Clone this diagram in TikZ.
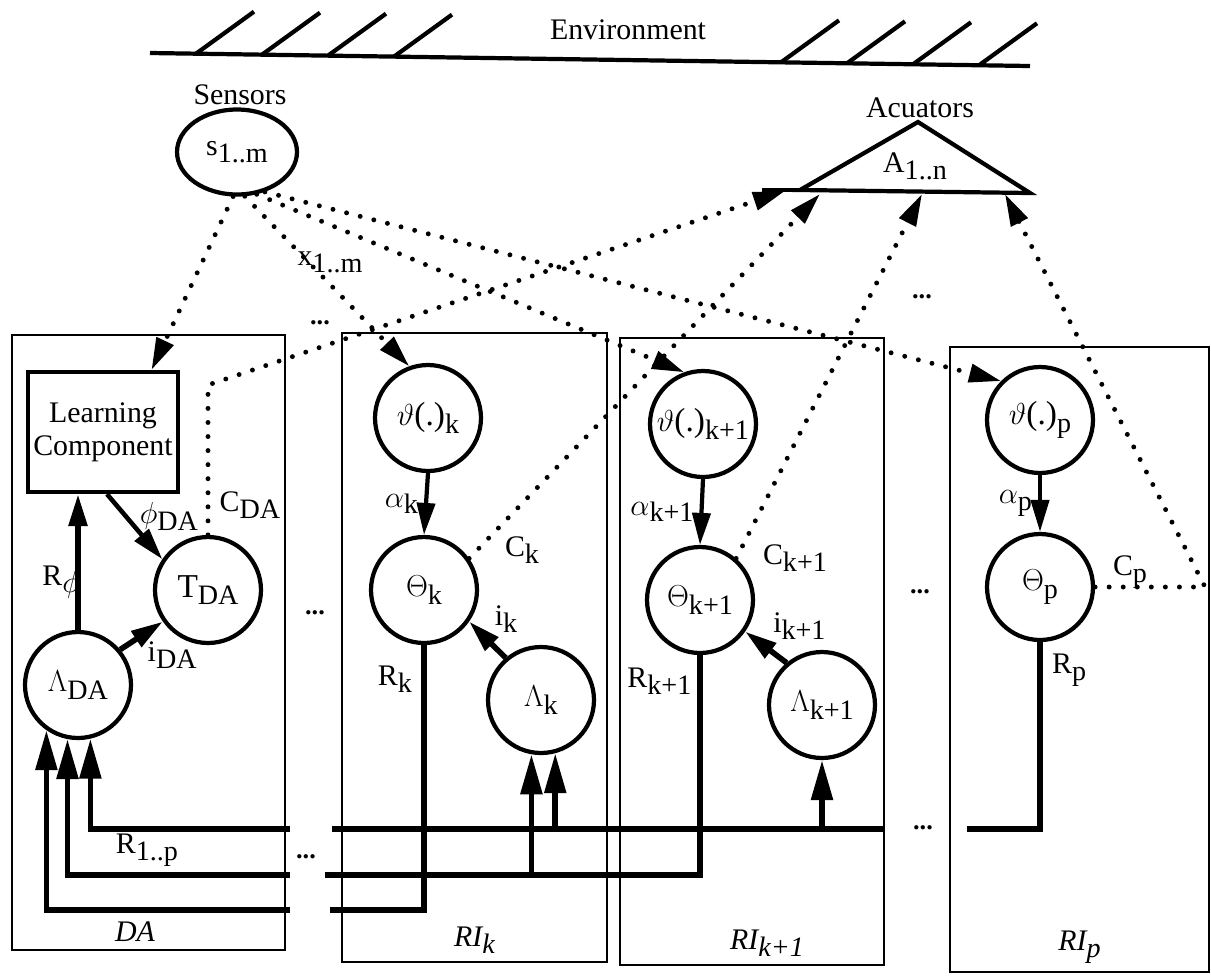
\documentclass[tikz,border=0pt]{standalone}
\usepackage{fontspec}
\setmainfont{Liberation Serif}
\usetikzlibrary{positioning, arrows.meta, shapes.geometric}
\newcommand{\idx}[1]{\raisebox{-0.5ex}{\fontsize{16}{16}\selectfont #1}}
\tikzset{
  unit/.style={circle, draw, line width=2.4pt, minimum size=2.12cm, inner sep=0pt, font=\fontsize{19}{20}\selectfont},
  panel/.style={draw, line width=1.1pt, inner sep=0pt},
  feed/.style={line width=3.2pt},
  tip/.style={-{Triangle[length=0.64cm, width=0.36cm]}},
  bigtip/.style={-{Triangle[length=0.8cm, width=0.42cm]}},
  sig/.style={line width=2.8pt, dash pattern=on 0pt off 8pt, line cap=round},
  dots/.style={font=\fontsize{15}{15}\selectfont\bfseries}
}

\begin{document}
\begin{tikzpicture}[x=0.02cm, y=-0.02cm, font=\fontsize{17}{19}\selectfont]
  \useasboundingbox (0,0) rectangle (1211,975);

  % environment
  \draw[line width=2.4pt] (150,53) -- (1030,66);
  \foreach \x in {196,262,328,394,781,847,913,979}
    \draw[line width=2.4pt] (\x,{53+(\x-150)*0.0148}) -- ++(58,-42);
  \node (env) at (628,30) {Environment};

  % sensors and actuators
  \node (senslabel) at (240,95) {Sensors};
  \node[ellipse, draw, line width=2.4pt, minimum width=2.4cm, minimum height=1.7cm, inner sep=0pt] (sens) at (237,152) {s\idx{1..m}};
  \node (actlabel) at (920,108) {Acuators};
  \draw[line width=2.4pt] (918,122) -- (1030,193) -- (800,190) -- cycle;
  \draw[line width=2.4pt] (800,190) -- (762,190);
  \node (act) at (915,166) {A\idx{1..n}};
  \coordinate (act1) at (785,191);
  \coordinate (act2) at (820,194);
  \coordinate (act3) at (922,194);
  \coordinate (act4) at (1005,194);

  % panels
  \node[panel, minimum width=5.46cm, minimum height=12.3cm] (da) at (148.5,642.5) {};
  \node[panel, minimum width=5.3cm, minimum height=12.58cm] (rik) at (474.5,647.5) {};
  \node[panel, minimum width=5.28cm, minimum height=12.54cm] (rik1) at (752,651.5) {};
  \node[panel, minimum width=5.18cm, minimum height=12.5cm] (rip) at (1079.5,659.5) {};
  \node[above=2pt of da.south, xshift=-0.27cm] (dalabel) {\textit{DA}};
  \node[above=2pt of rik.south] (riklabel) {\textit{RI\idx{k}}};
  \node[above=2pt of rik1.south, xshift=0.3cm] (rik1label) {\textit{RI\idx{k+1}}};
  \node[above=2pt of rip.south] (riplabel) {\textit{RI\idx{p}}};

  % DA
  \node[draw, line width=2.4pt, minimum width=3cm, minimum height=2.4cm, align=center, inner sep=2pt] (lc) at (103,432) {Learning\\Component};
  \node[unit] (tda) at (208,590) {T\idx{DA}};
  \node[unit] (lda) at (78,685) {$\Lambda$\idx{DA}};
  \draw[feed, tip] (lda.north) -- (lda.north |- lc.south) node[pos=0.35, left=-6pt] (rphi) {R\idx{$\phi$}};
  \draw[line width=2.6pt, tip] ([xshift=0.08cm]lc.south) -- (tda.146) node[pos=0.35, right=3pt] (phida) {$\phi$\idx{DA}};
  \draw[feed, tip] (lda.40) -- (tda.215) node[midway, below right=-2pt] (ida) {i\idx{DA}};
  \coordinate (cda) at (208,385);
  \draw[sig, tip] (tda.north) -- (cda) -- (act1);
  \node (cdalabel) at (250,505) {C\idx{DA}};

  % RI k
  \node[unit] (thk) at (428,418) {$\vartheta$(.)\idx{k}};
  \node[unit] (thetak) at (424,590) {$\Theta$\idx{k}};
  \node[unit] (lamk) at (541,700) {$\Lambda$\idx{k}};
  \draw[line width=2.4pt, tip] (thk.south) -- (thetak.north) node[midway, left] (ak) {$\alpha$\idx{k}};
  \draw[feed, tip] (lamk.130) -- (thetak.-35) node[midway, above right=-1pt] (ik) {i\idx{k}};
  \draw[sig, tip] (thetak.35) -- (act2);
  \node (cklabel) at (522,550) {C\idx{k}};

  % RI k+1
  \node[unit] (thk1) at (703,424) {$\vartheta$(.)\idx{k+1}};
  \node[unit] (thetak1) at (700,600) {$\Theta$\idx{k+1}};
  \node[unit] (lamk1) at (822,705) {$\Lambda$\idx{k+1}};
  \draw[line width=2.4pt, tip] (thk1.south) -- (thetak1.north) node[midway, left] (ak1) {$\alpha$\idx{k+1}};
  \draw[feed, tip] (lamk1.130) -- (thetak1.-35) node[midway, above right=-1pt] (ik1) {i\idx{k+1}};
  \draw[sig, tip] (thetak1.49) -- (act3);
  \node (ck1label) at (795,558) {C\idx{k+1}};

  % RI p
  \node[unit] (thp) at (1040,420) {$\vartheta$(.)\idx{p}};
  \node[unit] (thetap) at (1040,587) {$\Theta$\idx{p}};
  \draw[line width=2.4pt, tip] (thp.south) -- (thetap.north) node[midway, left] (ap) {$\alpha$\idx{p}};
  \coordinate (cp) at (1205,587);
  \draw[sig, tip] (thetap.east) -- (cp) -- (act4);
  \node (cplabel) at (1130,572) {C\idx{p}};

  % sensor signals
  \draw[sig, tip] (sens.265) -- (lc.52);
  \draw[sig, tip] (sens.280) -- (thk.110);
  \draw[sig, tip] (sens.295) -- (thk1.110);
  \draw[sig, tip] (sens.305) -- (thp.135);
  \node (xlabel) at (330,262) {x\idx{1..m}};

  % reward lines
  \coordinate (rk) at (330,910);
  \coordinate (rk1) at (325,875);
  \coordinate (rp) at (967,829);
  \draw[feed] (thetak.south) -- (thetak.south |- rk) node[pos=0.13, left=2pt] (rklabel) {R\idx{k}} -- (rk);
  \draw[feed] (thetak1.south) -- (thetak1.south |- rk1) node[pos=0.12, left=0pt] (rk1label) {R\idx{k+1}} -- (rk1);
  \draw[feed] (thetap.south) -- (thetap.south |- rp) node[pos=0.15, right=2pt] (rplabel) {R\idx{p}} -- (rp);
  \coordinate (b1l) at (332,829);
  \coordinate (b1r) at (885,829);
  \draw[feed] (b1l) -- (b1r);
  \draw[feed, bigtip] (lamk.285 |- b1l) -- (lamk.285);
  \draw[feed, bigtip] (lamk1.south |- b1l) -- (lamk1.south);
  \draw[feed, bigtip] (lamk.260 |- rk1) -- (lamk.260);
  \coordinate (d1) at (290,829);
  \coordinate (d2) at (290,875);
  \coordinate (d3) at (290,910);
  \draw[feed, bigtip] (d1) -- (lda.283 |- d1) -- (lda.283);
  \draw[feed, bigtip] (d2) -- (lda.259 |- d2) -- (lda.259);
  \draw[feed, bigtip] (d3) -- (lda.235 |- d3) -- (lda.235);
  \node (rlabel) at (147,850) {R\idx{1..p}};

  % ellipses
  \node[dots] (dt1) at (320,323) {...};
  \node[dots] (dt2) at (922,297) {...};
  \node[dots] (dt3) at (315,613) {...};
  \node[dots] (dt4) at (920,592) {...};
  \node[dots] (dt5) at (306,857) {...};
  \node[dots] (dt6) at (923,828) {...};
\end{tikzpicture}
\end{document}
